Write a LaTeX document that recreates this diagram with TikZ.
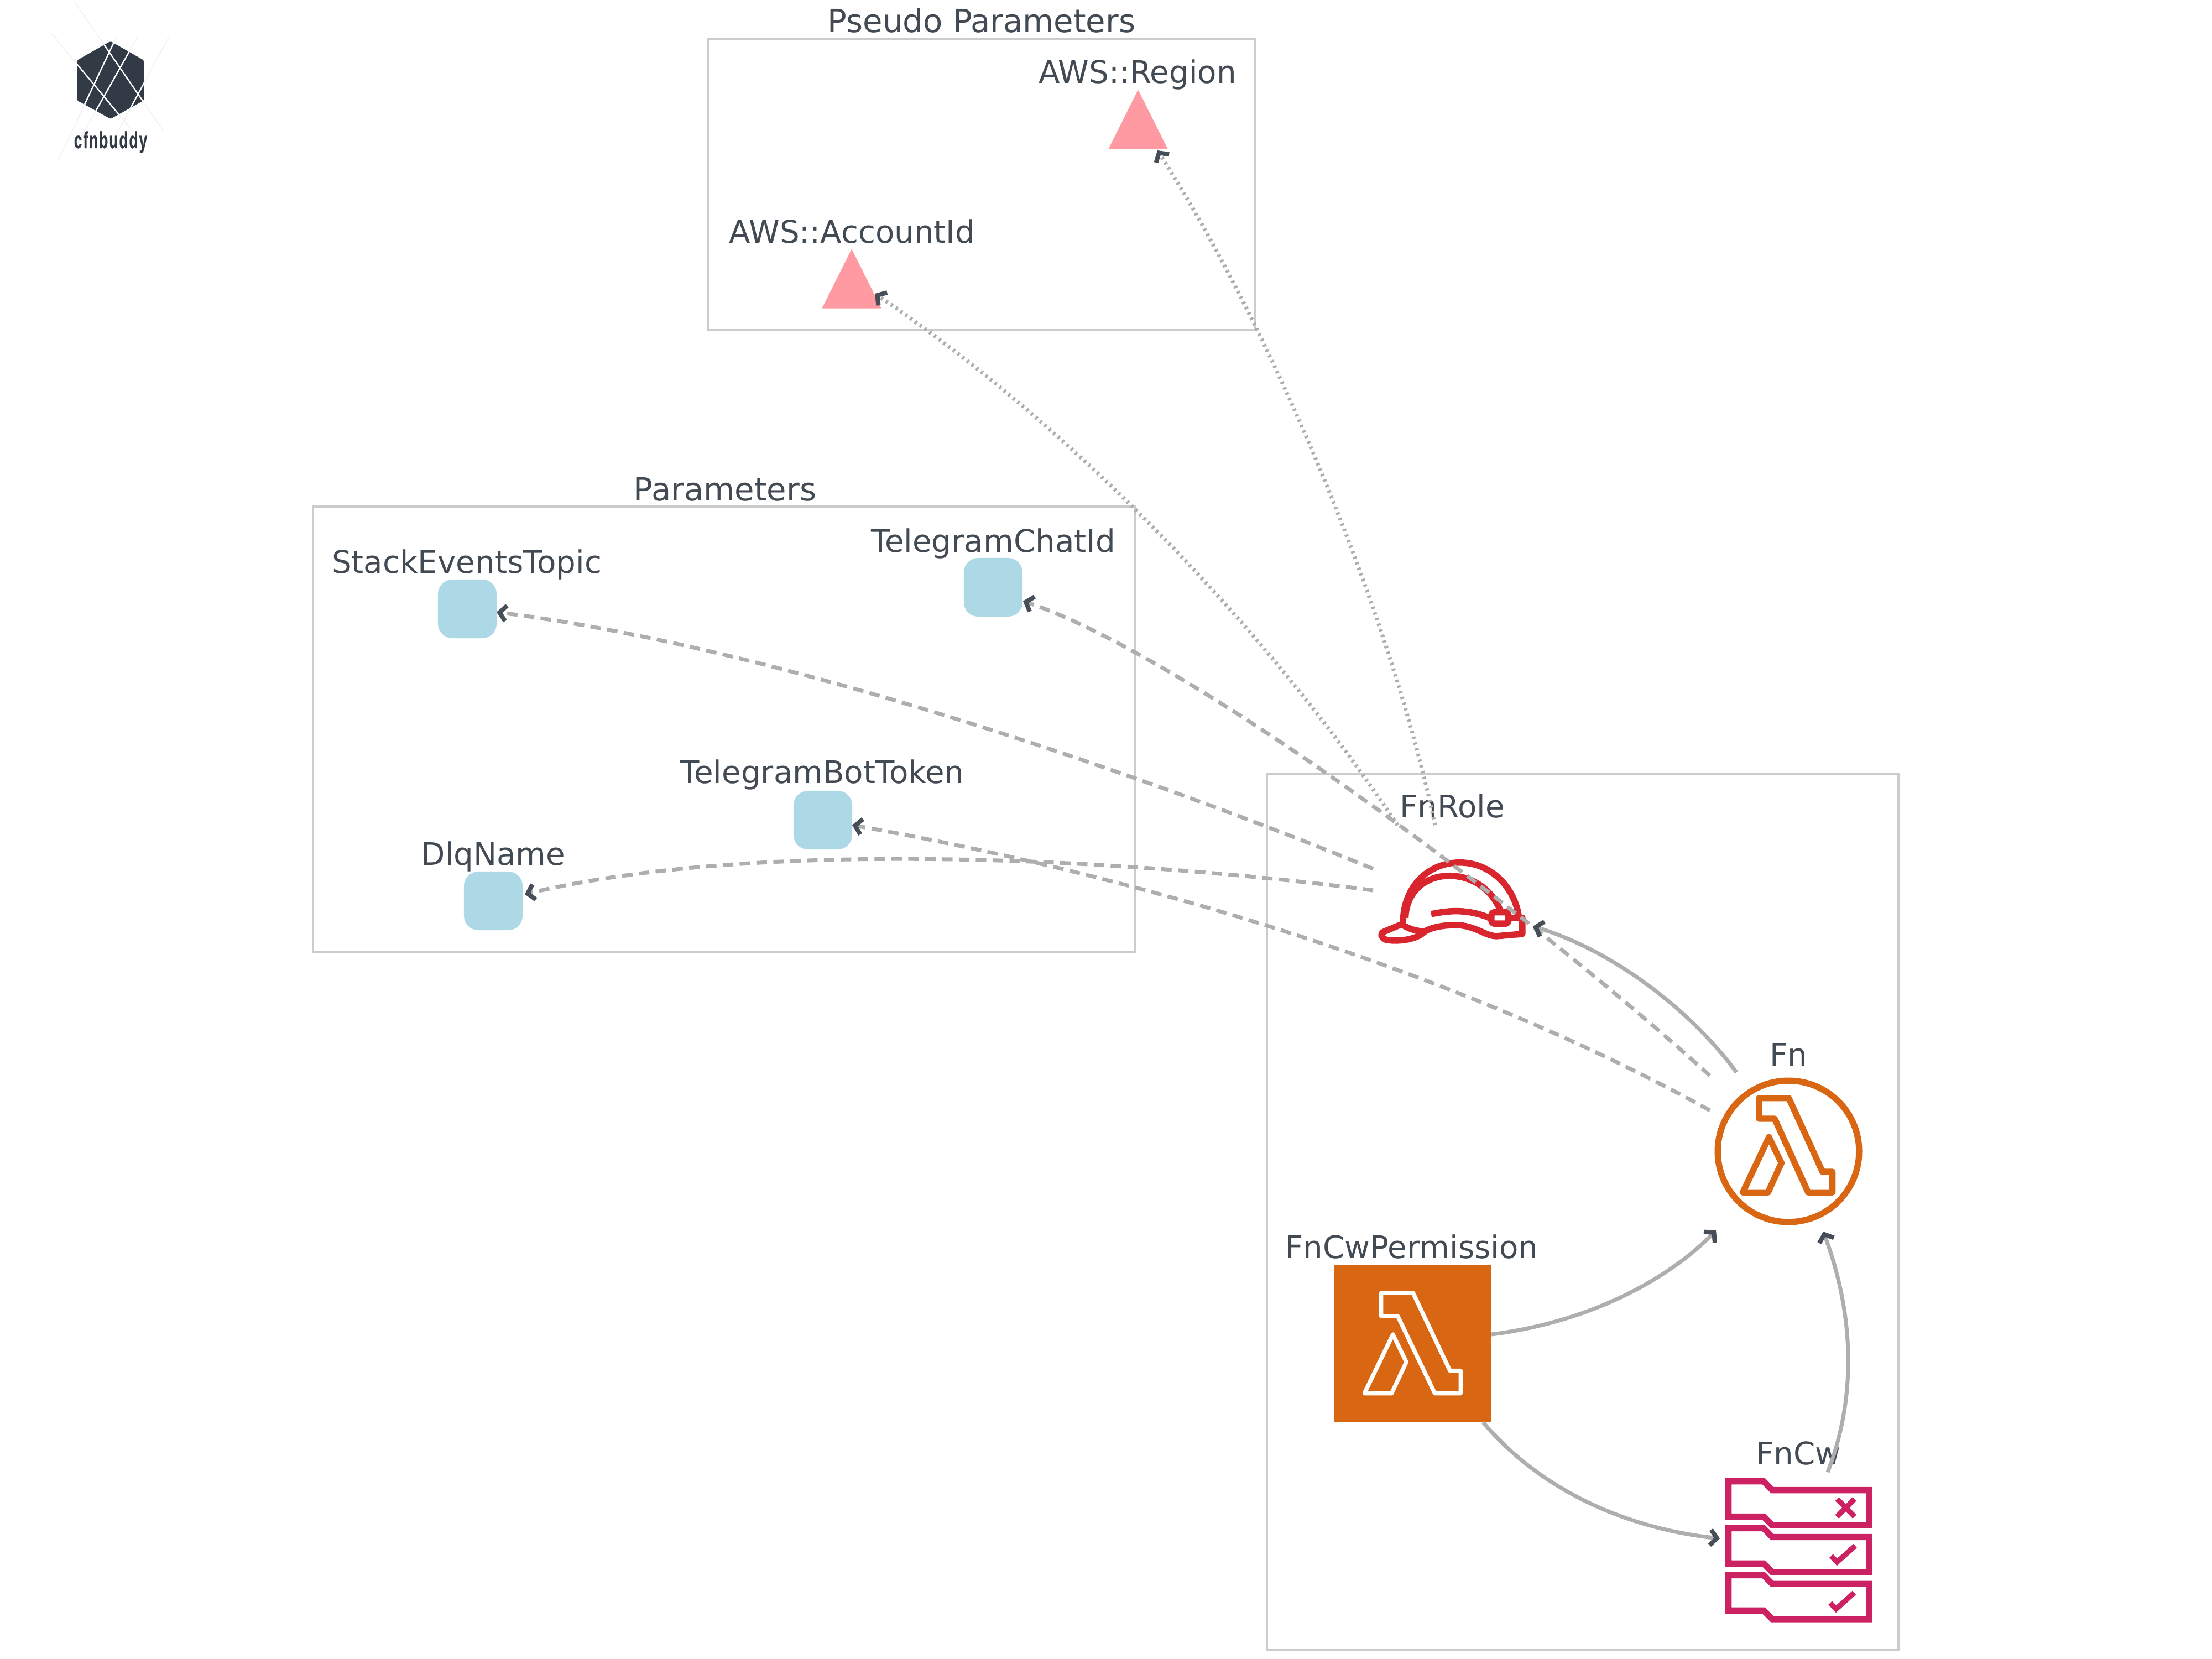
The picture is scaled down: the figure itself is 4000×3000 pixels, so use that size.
\documentclass[tikz,border=0pt]{standalone}
\usepackage{fontspec}
\setmainfont{DejaVu Sans}
\newfontfamily\logofont[LetterSpace=8,FakeBold=0.6]{Liberation Sans Bold}
\usetikzlibrary{arrows.meta}
\definecolor{txt}{HTML}{424B54}
\definecolor{edgegray}{HTML}{AEAEAE}
\definecolor{tipdark}{HTML}{464E57}
\definecolor{boxgray}{HTML}{CCCCCC}
\definecolor{paramblue}{HTML}{ADD8E6}
\definecolor{pseudopink}{HTML}{FF9AA2}
\definecolor{awsorange}{HTML}{D86613}
\definecolor{hatred}{HTML}{D9252E}
\definecolor{cwpink}{HTML}{CC2264}
\definecolor{logodark}{HTML}{313A45}
\definecolor{logoline}{HTML}{EFEFEF}
\tikzset{
  x=0.01cm,y=-0.01cm,
  clusterbox/.style={draw=boxgray,line width=0.04cm,fill=none},
  lbl/.style={text=txt,font=\fontsize{16}{20}\selectfont,inner sep=0pt,anchor=base},
  ttl/.style={lbl,font=\fontsize{16.4}{20}\selectfont},
  slot/.style={inner sep=0pt,minimum width=#1,minimum height=#1},
  paramslot/.style={slot=1.06cm},
  conn/.style={draw=edgegray,line width=0.07cm,
    -{Straight Barb[length=0.12cm,width=0.28cm,line width=0.08cm,color=tipdark]}},
  ref/.style={conn},
  refdash/.style={conn,dash pattern=on 0.19cm off 0.115cm},
  refdot/.style={conn,dash pattern=on 0.04cm off 0.067cm},
  icon/.style={line join=round,line cap=butt},
}
\begin{document}
\begin{tikzpicture}
\useasboundingbox (0,0) rectangle (4000,3000);
\fill[white] (0,0) rectangle (4000,3000);

% logo
\begin{scope}[shift={(60,0)},x=0.00333333cm,y=-0.00333333cm]
  \draw[logoline,line width=0.012cm] (225,10) -- (708,712);
  \draw[logoline,line width=0.012cm] (100,183) -- (560,735);
  \draw[logoline,line width=0.012cm] (455,195) -- (138,868);
  \draw[logoline,line width=0.012cm] (570,195) -- (218,820);
  \draw[logoline,line width=0.012cm] (740,195) -- (420,790);
  \fill[logodark,rounded corners=0.02cm] (420,224) -- (602,328) -- (602,545) -- (420,646) -- (238,545) -- (238,328) -- cycle;
  \begin{scope}
    \clip (420,224) -- (602,328) -- (602,545) -- (420,646) -- (238,545) -- (238,328) -- cycle;
    \draw[white,line width=0.024cm] (225,10) -- (708,712);
    \draw[white,line width=0.024cm] (100,183) -- (560,735);
    \draw[white,line width=0.024cm] (455,195) -- (138,868);
    \draw[white,line width=0.024cm] (570,195) -- (218,820);
    \draw[white,line width=0.024cm] (740,195) -- (420,790);
  \end{scope}
\end{scope}
\node[text=logodark,inner sep=0pt,anchor=base,xscale=0.62,font=\logofont\fontsize{12}{14}\selectfont] (logotext) at (200,268) {cfnbuddy};

% clusters
\draw[clusterbox] (1281,71) rectangle (2270,597);
\draw[clusterbox] (566,916) rectangle (2053,1722);
\draw[clusterbox] (2291,1400) rectangle (3433,2984);
\node[ttl] (pseudotitle) at (1775,59) {Pseudo Parameters};
\node[ttl] (paramtitle) at (1311,905) {Parameters};

% pseudo parameters
\node[paramslot] (region) at (2058,216) {};
\node[paramslot] (account) at (1540,504) {};
\fill[pseudopink] (region.north) -- (region.south east) -- (region.south west) -- cycle;
\fill[pseudopink] (account.north) -- (account.south east) -- (account.south west) -- cycle;
\node[lbl] (regionlbl) at (2057,151) {AWS::Region};
\node[lbl] (accountlbl) at (1541,439) {AWS::AccountId};

% parameters
\node[paramslot,fill=paramblue,rounded corners=0.26cm] (stack) at (845,1101) {};
\node[paramslot,fill=paramblue,rounded corners=0.26cm] (chat) at (1796,1062) {};
\node[paramslot,fill=paramblue,rounded corners=0.26cm] (bot) at (1488,1483) {};
\node[paramslot,fill=paramblue,rounded corners=0.26cm] (dlq) at (892,1629) {};
\node[lbl] (stacklbl) at (844,1036) {StackEventsTopic};
\node[lbl] (chatlbl) at (1796,998) {TelegramChatId};
\node[lbl] (botlbl) at (1487,1416) {TelegramBotToken};
\node[lbl] (dlqlbl) at (892,1564) {DlqName};

% FnRole hat
\node[slot=2.7cm] (fnrole) at (2627,1632) {};
\node[lbl] (fnrolelbl) at (2626,1478) {FnRole};
\begin{scope}[shift={(2400,1400)},x=0.00333333cm,y=-0.00333333cm,icon,draw=hatred,line width=0.115cm]
  \draw (412,815) .. controls (410,610) and (550,480) .. (720,480) .. controls (880,480) and (1010,600) .. (1040,765);
  \draw (425,780) .. controls (430,640) and (530,552) .. (665,552) .. controls (790,552) and (900,630) .. (942,745);
  \draw (565,760) .. controls (640,745) and (750,725) .. (885,782);
  \draw[rounded corners=0.05cm] (892,750) rectangle (985,812);
  \draw (1000,780) -- (1060,780) -- (1060,868) -- (920,880) .. controls (860,880) and (800,820) .. (700,820) .. controls (620,820) and (560,835) .. (530,855) .. controls (480,905) and (370,910) .. (320,900) .. controls (290,885) and (285,865) .. (310,855) -- (405,815) .. controls (440,840) and (480,852) .. (530,855);
\end{scope}

% Fn
\node[slot=2.555cm,circle,draw=awsorange,line width=0.113cm] (fn) at (3234,2082) {};
\node[lbl] (fnlbl) at (3234,1927) {Fn};
\begin{scope}[shift={(3050,1850)},x=0.00333333cm,y=-0.00333333cm,icon,draw=awsorange,line width=0.113cm]
  \draw (393,408) -- (555,408) -- (738,808) -- (792,808) -- (792,920) -- (660,920) -- (478,520) -- (393,520) -- cycle;
  \draw (447,620) -- (515,760) -- (442,920) -- (305,920) -- cycle;
\end{scope}

% FnCwPermission
\node[slot=2.84cm,fill=awsorange] (perm) at (2554,2429) {};
\node[lbl] (permlbl) at (2553,2275) {FnCwPermission};
\begin{scope}[shift={(2380,2250)},x=0.00333333cm,y=-0.00333333cm,icon,draw=white,line width=0.075cm]
  \draw (353,265) -- (527,265) -- (727,687) -- (785,687) -- (785,810) -- (645,810) -- (443,390) -- (353,390) -- cycle;
  \draw (417,490) -- (490,640) -- (410,810) -- (262,810) -- cycle;
\end{scope}

% FnCw
\node[slot=2.7cm] (fncw) at (3253,2805) {};
\node[lbl] (fncwlbl) at (3252,2648) {FnCw};
\begin{scope}[shift={(3080,2630)},x=0.00333333cm,y=-0.00333333cm,icon,draw=cwpink,line width=0.113cm,line join=miter]
  \foreach \dy in {0,255,510}{
    \draw (137,146+\dy) -- (328,146+\dy) -- (375,194+\dy) -- (902,194+\dy) -- (902,385+\dy) -- (375,385+\dy) -- (328,338+\dy) -- (137,338+\dy) -- cycle;
  }
  \draw[line width=0.095cm] (727,242) -- (822,338) (727,338) -- (822,242);
  \draw[line width=0.095cm] (695,552) -- (727,585) -- (825,497);
  \draw[line width=0.095cm] (690,807) -- (722,840) -- (820,752);
\end{scope}

% connectors
\draw[refdash] ([shift={(-144,-61)}]fnrole.center) .. controls +(-430,-176) and +(502,63) .. ([shift={(53,6)}]stack.center);
\draw[refdash] ([shift={(-144,-22)}]fnrole.center) .. controls +(-383,-50) and +(451,-107) .. ([shift={(57,-12)}]dlq.center);
\draw[refdash] ([shift={(-142,-74)}]fn.center) .. controls +(-392,-218) and +(609,108) .. ([shift={(53,9)}]bot.center);
\draw[refdash] ([shift={(-142,-137)}]fn.center) .. controls +(-372,-335) and +(280,93) .. ([shift={(54,25)}]chat.center);
\draw[ref] ([shift={(-94,-143)}]fn.center) .. controls +(-80,-109) and +(148,45) .. ([shift={(145,43)}]fnrole.center);
\draw[refdot] ([shift={(-100,-140)}]fnrole.center) .. controls +(-227,-342) and +(368,249) .. ([shift={(42,27)}]account.center);
\draw[refdot] ([shift={(-32,-140)}]fnrole.center) .. controls +(-85,-402) and +(197,308) .. ([shift={(35,56)}]region.center);
\draw[ref] ([shift={(143,-16)}]perm.center) .. controls +(183,-23) and +(-83,85) .. ([shift={(-131,143)}]fn.center);
\draw[ref] ([shift={(128,143)}]perm.center) .. controls +(108,128) and +(-160,-17) .. ([shift={(-143,-23)}]fncw.center);
\draw[ref] ([shift={(52,-143)}]fncw.center) .. controls +(55,-142) and +(53,143) .. ([shift={(63,145)}]fn.center);
\end{tikzpicture}
\end{document}
